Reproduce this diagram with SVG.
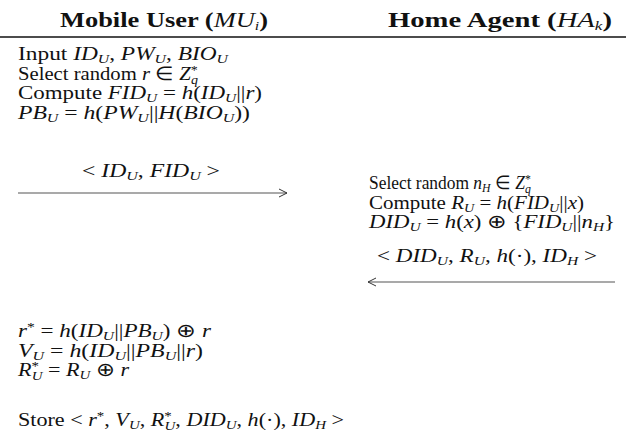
<svg xmlns="http://www.w3.org/2000/svg" width="626" height="442" viewBox="0 0 626 442">
<style>
.t{font-family:"Liberation Serif","Times New Roman",serif;font-size:18.5px;fill:#111}
.i{font-style:italic}
.s{font-size:12.5px}
.h{font-family:"Liberation Serif","Times New Roman",serif;font-size:21px;font-weight:bold;fill:#111}
.n{font-weight:normal}
.c{stroke:#555;stroke-width:1.2;fill:none}
</style>
<defs>
<marker id="ah" viewBox="0 0 10 10" refX="9" refY="5" markerWidth="10" markerHeight="10" markerUnits="userSpaceOnUse" orient="auto">
<path d="M1,1 L9,5 L1,9" fill="none" stroke="#333" stroke-width="1"/>
</marker>
</defs>
<rect width="626" height="442" fill="#fff"/>
<g id="header">
<text class="h" x="60" y="27" textLength="208" lengthAdjust="spacingAndGlyphs">Mobile User (<tspan class="i n">MU</tspan><tspan class="i s n" dy="3">i</tspan><tspan dy="-3">)</tspan></text>
<text class="h" x="388" y="27" textLength="224" lengthAdjust="spacingAndGlyphs">Home Agent (<tspan class="i n">HA</tspan><tspan class="i s n" dy="3">k</tspan><tspan dy="-3">)</tspan></text>
<line x1="0" y1="37" x2="626" y2="37" stroke="#111" stroke-width="1.3"/>
</g>
<g id="mu-registration">
<text class="t" x="18" y="60" textLength="210" lengthAdjust="spacingAndGlyphs">Input <tspan class="i">ID</tspan><tspan class="i s" dy="3">U</tspan><tspan dy="-3">, </tspan><tspan class="i">PW</tspan><tspan class="i s" dy="3">U</tspan><tspan dy="-3">, </tspan><tspan class="i">BIO</tspan><tspan class="i s" dy="3">U</tspan></text>
<text class="t" x="18" y="79.5" textLength="180" lengthAdjust="spacingAndGlyphs">Select random <tspan class="i">r</tspan> ∈ <tspan class="i">Z</tspan><tspan class="s" dy="-6">*</tspan><tspan class="i s" dx="-6" dy="10">q</tspan></text>
<text class="t" x="18" y="99" textLength="244" lengthAdjust="spacingAndGlyphs">Compute <tspan class="i">FID</tspan><tspan class="i s" dy="3">U</tspan><tspan dy="-3"> = </tspan><tspan class="i">h</tspan>(<tspan class="i">ID</tspan><tspan class="i s" dy="3">U</tspan><tspan dy="-3">||</tspan><tspan class="i">r</tspan>)</text>
<text class="t" x="18" y="118.5" textLength="232" lengthAdjust="spacingAndGlyphs"><tspan class="i">PB</tspan><tspan class="i s" dy="3">U</tspan><tspan dy="-3"> = </tspan><tspan class="i">h</tspan>(<tspan class="i">PW</tspan><tspan class="i s" dy="3">U</tspan><tspan dy="-3">||</tspan><tspan class="i">H</tspan>(<tspan class="i">BIO</tspan><tspan class="i s" dy="3">U</tspan><tspan dy="-3">))</tspan></text>
</g>
<g id="ha-processing">
<text class="t" x="369" y="189" textLength="162" lengthAdjust="spacingAndGlyphs">Select random <tspan class="i">n</tspan><tspan class="i s" dy="3">H</tspan><tspan dy="-3"> ∈ </tspan><tspan class="i">Z</tspan><tspan class="s" dy="-6">*</tspan><tspan class="i s" dx="-6" dy="10">q</tspan></text>
<text class="t" x="369" y="208.5" textLength="215" lengthAdjust="spacingAndGlyphs">Compute <tspan class="i">R</tspan><tspan class="i s" dy="3">U</tspan><tspan dy="-3"> = </tspan><tspan class="i">h</tspan>(<tspan class="i">FID</tspan><tspan class="i s" dy="3">U</tspan><tspan dy="-3">||</tspan><tspan class="i">x</tspan>)</text>
<text class="t" x="369" y="228" textLength="246" lengthAdjust="spacingAndGlyphs"><tspan class="i">DID</tspan><tspan class="i s" dy="3">U</tspan><tspan dy="-3"> = </tspan><tspan class="i">h</tspan>(<tspan class="i">x</tspan>) ⊕ {<tspan class="i">FID</tspan><tspan class="i s" dy="3">U</tspan><tspan dy="-3">||</tspan><tspan class="i">n</tspan><tspan class="i s" dy="3">H</tspan><tspan dy="-3">}</tspan></text>
</g>
<g id="mu-storage">
<text class="t" x="18" y="337" textLength="193" lengthAdjust="spacingAndGlyphs"><tspan class="i">r</tspan><tspan class="s" dy="-6">*</tspan><tspan dy="6"> = </tspan><tspan class="i">h</tspan>(<tspan class="i">ID</tspan><tspan class="i s" dy="3">U</tspan><tspan dy="-3">||</tspan><tspan class="i">PB</tspan><tspan class="i s" dy="3">U</tspan><tspan dy="-3">) ⊕ </tspan><tspan class="i">r</tspan></text>
<text class="t" x="18" y="356.5" textLength="185" lengthAdjust="spacingAndGlyphs"><tspan class="i">V</tspan><tspan class="i s" dy="3">U</tspan><tspan dy="-3"> = </tspan><tspan class="i">h</tspan>(<tspan class="i">ID</tspan><tspan class="i s" dy="3">U</tspan><tspan dy="-3">||</tspan><tspan class="i">PB</tspan><tspan class="i s" dy="3">U</tspan><tspan dy="-3">||</tspan><tspan class="i">r</tspan>)</text>
<text class="t" x="18" y="376" textLength="111" lengthAdjust="spacingAndGlyphs"><tspan class="i">R</tspan><tspan class="s" dy="-6">*</tspan><tspan class="i s" dx="-6" dy="10">U</tspan><tspan dy="-4"> = </tspan><tspan class="i">R</tspan><tspan class="i s" dy="3">U</tspan><tspan dy="-3"> ⊕ </tspan><tspan class="i">r</tspan></text>
<text class="t" x="18" y="426" textLength="326" lengthAdjust="spacingAndGlyphs">Store &lt; <tspan class="i">r</tspan><tspan class="s" dy="-6">*</tspan><tspan dy="6">, </tspan><tspan class="i">V</tspan><tspan class="i s" dy="3">U</tspan><tspan dy="-3">, </tspan><tspan class="i">R</tspan><tspan class="s" dy="-6">*</tspan><tspan class="i s" dx="-6" dy="10">U</tspan><tspan dy="-4">, </tspan><tspan class="i">DID</tspan><tspan class="i s" dy="3">U</tspan><tspan dy="-3">, </tspan><tspan class="i">h</tspan>(·), <tspan class="i">ID</tspan><tspan class="i s" dy="3">H</tspan><tspan dy="-3"> &gt;</tspan></text>
</g>
<g id="connectors">
<text class="t" x="82" y="177" textLength="138" lengthAdjust="spacingAndGlyphs">&lt; <tspan class="i">ID</tspan><tspan class="i s" dy="3">U</tspan><tspan dy="-3">, </tspan><tspan class="i">FID</tspan><tspan class="i s" dy="3">U</tspan><tspan dy="-3"> &gt;</tspan></text>
<line class="c" x1="18" y1="193" x2="287" y2="193" marker-end="url(#ah)"/>
<text class="t" x="377" y="262" textLength="220" lengthAdjust="spacingAndGlyphs">&lt; <tspan class="i">DID</tspan><tspan class="i s" dy="3">U</tspan><tspan dy="-3">, </tspan><tspan class="i">R</tspan><tspan class="i s" dy="3">U</tspan><tspan dy="-3">, </tspan><tspan class="i">h</tspan>(·), <tspan class="i">ID</tspan><tspan class="i s" dy="3">H</tspan><tspan dy="-3"> &gt;</tspan></text>
<line class="c" x1="615" y1="282" x2="368" y2="282" marker-end="url(#ah)"/>
</g>
</svg>
